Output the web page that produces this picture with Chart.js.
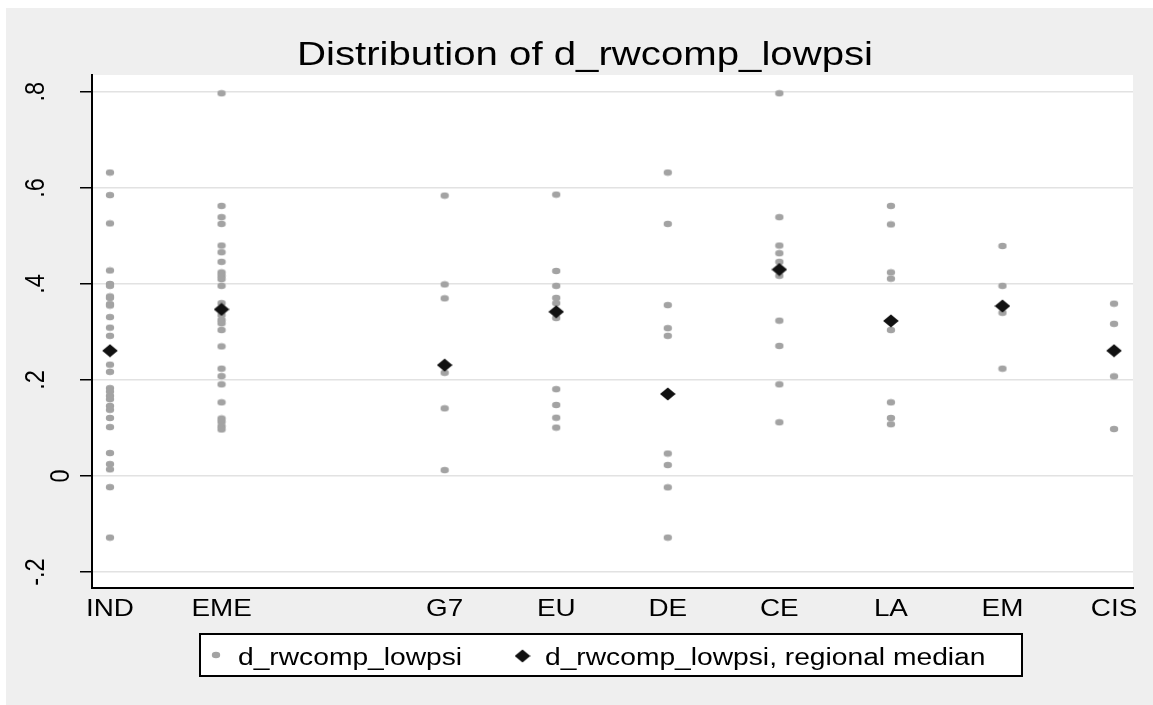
<!DOCTYPE html>
<html><head><meta charset="utf-8">
<script src="https://cdn.jsdelivr.net/npm/chart.js@4.4.0/dist/chart.umd.min.js"></script>
<style>html,body{margin:0;padding:0;background:#fff;}canvas{display:block;}</style>
</head><body>
<canvas id="c" width="1153" height="705"></canvas>
<script>
// ---- data ----
const regions = ['IND', 'EME', 'G7', 'EU', 'DE', 'CE', 'LA', 'EM', 'CIS'];
const regionCode = [1, 2, 4, 5, 6, 7, 8, 9, 10];
const valsIND = [0.632, 0.585, 0.526, 0.428, 0.400, 0.396, 0.374, 0.371, 0.358, 0.355, 0.331, 0.309, 0.292, 0.261, 0.232, 0.217, 0.183, 0.176, 0.167, 0.160, 0.146, 0.138, 0.121, 0.102, 0.048, 0.025, 0.014, -0.023, -0.128];
const valsEME = [0.797, 0.5625, 0.539, 0.525, 0.480, 0.466, 0.446, 0.424, 0.417, 0.410, 0.396, 0.360, 0.347, 0.335, 0.325, 0.318, 0.304, 0.270, 0.2236, 0.208, 0.191, 0.1535, 0.120, 0.113, 0.104, 0.097];
const valsG7 = [0.584, 0.399, 0.370, 0.231, 0.215, 0.141, 0.0125];
const valsEU = [0.586, 0.427, 0.396, 0.371, 0.360, 0.342, 0.329, 0.181, 0.148, 0.1215, 0.101];
const valsDE = [0.632, 0.525, 0.356, 0.308, 0.292, 0.171, 0.047, 0.023, -0.0235, -0.128];
const valsCE = [0.797, 0.539, 0.480, 0.464, 0.446, 0.430, 0.417, 0.3236, 0.271, 0.191, 0.112];
const valsLA = [0.5625, 0.524, 0.424, 0.411, 0.323, 0.304, 0.1535, 0.121, 0.108];
const valsEM = [0.479, 0.396, 0.354, 0.340, 0.2236];
const valsCIS = [0.359, 0.317, 0.261, 0.2077, 0.098];
const regionalMedian = [0.261, 0.347, 0.231, 0.342, 0.171, 0.430, 0.323, 0.354, 0.261];
const yTickValues = [-0.2, 0, 0.2, 0.4, 0.6, 0.8];
const yTickLabels = ['-.2', '0', '.2', '.4', '.6', '.8'];
const titleText = 'Distribution of d_rwcomp_lowpsi';
const seriesNames = ['d_rwcomp_lowpsi', 'd_rwcomp_lowpsi, regional median'];

// ---- build ----
const allVals = [valsIND, valsEME, valsG7, valsEU, valsDE, valsCE, valsLA, valsEM, valsCIS];
const dotPoints = [];
allVals.forEach((arr, i) => arr.forEach(v => dotPoints.push({x: regionCode[i], y: v})));
const medianPoints = regionalMedian.map((v, i) => ({x: regionCode[i], y: v}));

const DOT = '#a3a3a3', DIA = '#111111';
function dotImg() {
  const c = document.createElement('canvas'); c.width = 10; c.height = 8;
  const g = c.getContext('2d'); g.fillStyle = DOT;
  g.beginPath(); g.ellipse(5, 4, 4.2, 3.2, 0, 0, Math.PI * 2); g.fill(); return c;
}
function diamondImg() {
  const c = document.createElement('canvas'); c.width = 16; c.height = 14;
  const g = c.getContext('2d'); g.fillStyle = DIA;
  g.beginPath(); g.moveTo(8, 0.5); g.lineTo(15.8, 7); g.lineTo(8, 13.5); g.lineTo(0.2, 7); g.closePath(); g.fill(); return c;
}
const dotStyle = dotImg(), diaStyle = diamondImg();
const FONT = '"Liberation Sans", Arial, Helvetica, sans-serif';

function sText(ctx, text, x, y, size, align, sx, rot) {
  ctx.save();
  ctx.font = size + 'px ' + FONT;
  ctx.fillStyle = '#000';
  ctx.textAlign = align; ctx.textBaseline = 'alphabetic';
  ctx.translate(x, y); ctx.scale(sx, 1);
  if (rot) ctx.rotate(rot);
  ctx.fillText(text, 0, 0);
  ctx.restore();
}

const decor = {
  id: 'decor',
  beforeDraw(chart) {
    const {ctx, chartArea: a} = chart;
    ctx.save();
    ctx.fillStyle = '#fff'; ctx.fillRect(0, 0, chart.width, chart.height);
    ctx.fillStyle = '#efefef'; ctx.fillRect(6, 8, chart.width - 6, chart.height - 8);
    ctx.fillStyle = '#fff'; ctx.fillRect(a.left, a.top, a.right - a.left, a.bottom - a.top);
    ctx.restore();
  },
  afterDraw(chart) {
    const {ctx} = chart;
    const xs = chart.scales.x, ys = chart.scales.y;
    // title
    ctx.save(); ctx.font = '32.5px ' + FONT;
    const tw = ctx.measureText(titleText).width; ctx.restore();
    sText(ctx, titleText, 585, 64.5, 32.5, 'center', 576 / tw, 0);
    // x labels
    regions.forEach((r, i) => sText(ctx, r, xs.getPixelForValue(regionCode[i]), 616, 24, 'center', 1.16, 0));
    // y labels (rotated)
    yTickValues.forEach((v, i) => {
      const lx = yTickLabels[i] === '0' ? 69 : 44;
      sText(ctx, yTickLabels[i], lx, ys.getPixelForValue(v), 23.5, 'center', 1.2, -Math.PI / 2);
    });
    // legend
    ctx.save();
    ctx.fillStyle = '#fff'; ctx.fillRect(199, 633, 824, 44);
    ctx.strokeStyle = '#000'; ctx.lineWidth = 2; ctx.strokeRect(200, 634, 822, 42);
    ctx.drawImage(dotStyle, 211, 651);
    ctx.drawImage(diaStyle, 514.5, 649);
    ctx.restore();
    sText(ctx, seriesNames[0], 238, 665, 23.5, 'left', 1.2, 0);
    sText(ctx, seriesNames[1], 545, 665, 23.5, 'left', 1.2, 0);
  }
};

new Chart(document.getElementById('c'), {
  type: 'scatter',
  data: {
    datasets: [
      {label: seriesNames[0], data: dotPoints, pointStyle: dotStyle, pointRadius: 4, pointHoverRadius: 4, order: 2, showLine: false},
      {label: seriesNames[1], data: medianPoints, pointStyle: diaStyle, pointRadius: 7, pointHoverRadius: 7, order: 1, showLine: false}
    ]
  },
  options: {
    responsive: false,
    devicePixelRatio: 1,
    animation: false,
    events: [],
    layout: {padding: {top: 75, left: 0, right: 20, bottom: 117}},
    plugins: {legend: {display: false}, title: {display: false}, tooltip: {enabled: false}},
    scales: {
      x: {
        type: 'linear', min: 0.8387, max: 10.170,
        afterBuildTicks(s) { s.ticks = regionCode.map(v => ({value: v})); },
        afterFit(s) { s.height = 0; },
        ticks: {display: false},
        grid: {display: false, drawTicks: false},
        border: {display: true, color: '#000', width: 2}
      },
      y: {
        type: 'linear', min: -0.233, max: 0.835,
        afterBuildTicks(s) { s.ticks = yTickValues.map(v => ({value: v})); },
        afterFit(s) { s.width = 92; },
        ticks: {display: false},
        grid: {color: '#e2e2e2', lineWidth: 1.5, drawTicks: true, tickLength: 12, tickColor: '#000', tickWidth: 1.5},
        border: {display: true, color: '#000', width: 2}
      }
    }
  },
  plugins: [decor]
});
</script>
</body></html>
